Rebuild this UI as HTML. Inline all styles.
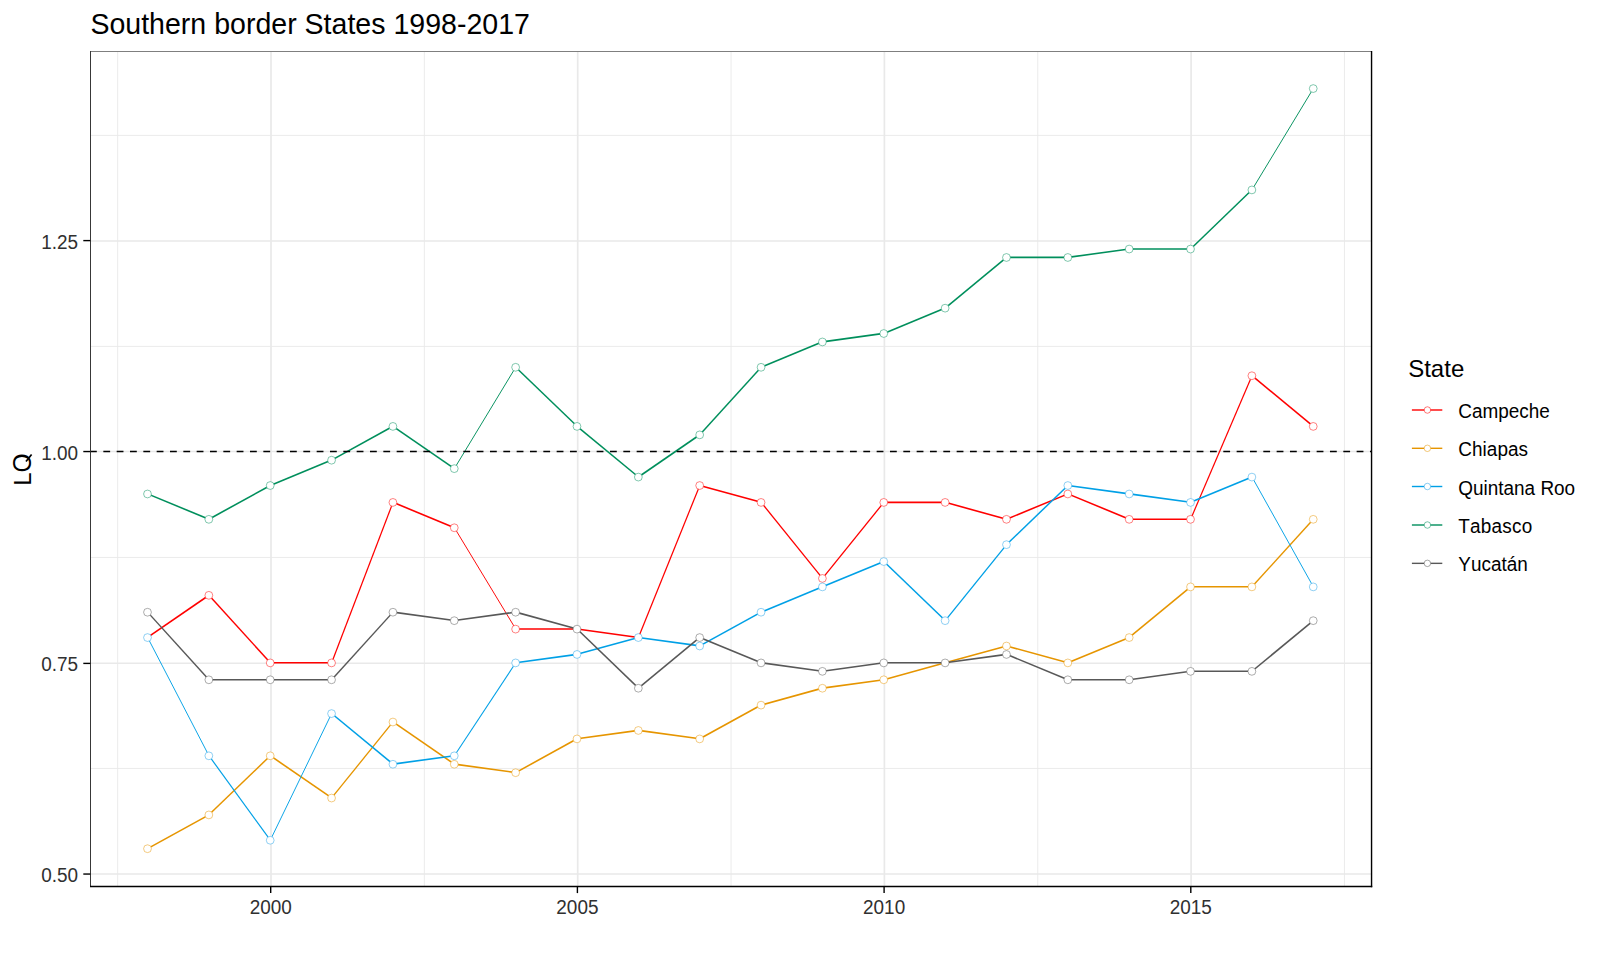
<!DOCTYPE html>
<html lang="en"><head><meta charset="utf-8"><title>Southern border States 1998-2017</title>
<style>html,body{margin:0;padding:0;background:#fff;width:1600px;height:960px;overflow:hidden}svg{display:block;position:absolute;left:0;top:0}text{font-family:"Liberation Sans",sans-serif;fill:#000;font-kerning:none;font-feature-settings:"kern" 0,"liga" 0}.ax{font-size:18.95px;fill:#303030}.lg{font-size:18.95px}.lt{font-size:24px}.ti{font-size:28.55px}</style></head><body>
<svg width="1600" height="960" viewBox="0 0 1600 960">
<rect x="0" y="0" width="1600" height="960" fill="#ffffff"/>
<g id="grid" stroke="#e9e9e9" fill="none">
<line x1="90.5" x2="1371.55" y1="768.48" y2="768.48" stroke-width="0.9"/>
<line x1="90.5" x2="1371.55" y1="557.45" y2="557.45" stroke-width="0.9"/>
<line x1="90.5" x2="1371.55" y1="346.42" y2="346.42" stroke-width="0.9"/>
<line x1="90.5" x2="1371.55" y1="135.39" y2="135.39" stroke-width="0.9"/>
<line y1="51.5" y2="886.45" x1="117.65" x2="117.65" stroke-width="0.9"/>
<line y1="51.5" y2="886.45" x1="424.35" x2="424.35" stroke-width="0.9"/>
<line y1="51.5" y2="886.45" x1="731.05" x2="731.05" stroke-width="0.9"/>
<line y1="51.5" y2="886.45" x1="1037.75" x2="1037.75" stroke-width="0.9"/>
<line y1="51.5" y2="886.45" x1="1344.45" x2="1344.45" stroke-width="0.9"/>
<line x1="90.5" x2="1371.55" y1="874.00" y2="874.00" stroke-width="1.5"/>
<line x1="90.5" x2="1371.55" y1="663.30" y2="663.30" stroke-width="1.5"/>
<line x1="90.5" x2="1371.55" y1="451.60" y2="451.60" stroke-width="1.5"/>
<line x1="90.5" x2="1371.55" y1="240.90" y2="240.90" stroke-width="1.5"/>
<line y1="51.5" y2="886.45" x1="271.00" x2="271.00" stroke-width="1.7"/>
<line y1="51.5" y2="886.45" x1="577.70" x2="577.70" stroke-width="1.7"/>
<line y1="51.5" y2="886.45" x1="884.40" x2="884.40" stroke-width="1.7"/>
<line y1="51.5" y2="886.45" x1="1191.10" x2="1191.10" stroke-width="1.7"/>
</g>
<g id="lines" fill="none" stroke-linecap="butt">
<g stroke="#FF0000">
<line x1="147.60" y1="637.46" x2="208.95" y2="595.23" stroke-width="1.60"/>
<line x1="208.95" y1="595.23" x2="270.31" y2="662.80" stroke-width="1.45"/>
<line x1="270.31" y1="662.80" x2="331.66" y2="662.80" stroke-width="1.60"/>
<line x1="331.66" y1="662.80" x2="393.02" y2="502.33" stroke-width="1.25"/>
<line x1="393.02" y1="502.33" x2="454.38" y2="527.66" stroke-width="1.60"/>
<line x1="454.38" y1="527.66" x2="515.73" y2="629.02" stroke-width="0.96"/>
<line x1="515.73" y1="629.02" x2="577.08" y2="629.02" stroke-width="1.60"/>
<line x1="577.08" y1="629.02" x2="638.44" y2="637.46" stroke-width="1.60"/>
<line x1="638.44" y1="637.46" x2="699.79" y2="485.43" stroke-width="1.25"/>
<line x1="699.79" y1="485.43" x2="761.15" y2="502.33" stroke-width="1.60"/>
<line x1="761.15" y1="502.33" x2="822.50" y2="578.34" stroke-width="1.32"/>
<line x1="822.50" y1="578.34" x2="883.86" y2="502.33" stroke-width="1.32"/>
<line x1="883.86" y1="502.33" x2="945.22" y2="502.33" stroke-width="1.60"/>
<line x1="945.22" y1="502.33" x2="1006.57" y2="519.22" stroke-width="1.60"/>
<line x1="1006.57" y1="519.22" x2="1067.92" y2="493.88" stroke-width="1.60"/>
<line x1="1067.92" y1="493.88" x2="1129.28" y2="519.22" stroke-width="1.60"/>
<line x1="1129.28" y1="519.22" x2="1190.63" y2="519.22" stroke-width="1.60"/>
<line x1="1190.63" y1="519.22" x2="1251.99" y2="375.64" stroke-width="1.23"/>
<line x1="1251.99" y1="375.64" x2="1313.34" y2="426.31" stroke-width="1.55"/>
</g>
<g stroke="#E69500">
<line x1="147.60" y1="848.61" x2="208.95" y2="814.83" stroke-width="1.60"/>
<line x1="208.95" y1="814.83" x2="270.31" y2="755.71" stroke-width="1.50"/>
<line x1="270.31" y1="755.71" x2="331.66" y2="797.94" stroke-width="1.60"/>
<line x1="331.66" y1="797.94" x2="393.02" y2="721.92" stroke-width="1.32"/>
<line x1="393.02" y1="721.92" x2="454.38" y2="764.15" stroke-width="1.60"/>
<line x1="454.38" y1="764.15" x2="515.73" y2="772.60" stroke-width="1.60"/>
<line x1="515.73" y1="772.60" x2="577.08" y2="738.81" stroke-width="1.60"/>
<line x1="577.08" y1="738.81" x2="638.44" y2="730.37" stroke-width="1.60"/>
<line x1="638.44" y1="730.37" x2="699.79" y2="738.81" stroke-width="1.60"/>
<line x1="699.79" y1="738.81" x2="761.15" y2="705.03" stroke-width="1.60"/>
<line x1="761.15" y1="705.03" x2="822.50" y2="688.14" stroke-width="1.60"/>
<line x1="822.50" y1="688.14" x2="883.86" y2="679.69" stroke-width="1.60"/>
<line x1="883.86" y1="679.69" x2="945.22" y2="662.80" stroke-width="1.60"/>
<line x1="945.22" y1="662.80" x2="1006.57" y2="645.91" stroke-width="1.60"/>
<line x1="1006.57" y1="645.91" x2="1067.92" y2="662.80" stroke-width="1.60"/>
<line x1="1067.92" y1="662.80" x2="1129.28" y2="637.46" stroke-width="1.60"/>
<line x1="1129.28" y1="637.46" x2="1190.63" y2="586.79" stroke-width="1.55"/>
<line x1="1190.63" y1="586.79" x2="1251.99" y2="586.79" stroke-width="1.60"/>
<line x1="1251.99" y1="586.79" x2="1313.34" y2="519.22" stroke-width="1.45"/>
</g>
<g stroke="#00A0E6">
<line x1="147.60" y1="637.46" x2="208.95" y2="755.71" stroke-width="0.95"/>
<line x1="208.95" y1="755.71" x2="270.31" y2="840.17" stroke-width="1.19"/>
<line x1="270.31" y1="840.17" x2="331.66" y2="713.48" stroke-width="0.95"/>
<line x1="331.66" y1="713.48" x2="393.02" y2="764.15" stroke-width="1.55"/>
<line x1="393.02" y1="764.15" x2="454.38" y2="755.71" stroke-width="1.60"/>
<line x1="454.38" y1="755.71" x2="515.73" y2="662.80" stroke-width="1.07"/>
<line x1="515.73" y1="662.80" x2="577.08" y2="654.35" stroke-width="1.60"/>
<line x1="577.08" y1="654.35" x2="638.44" y2="637.46" stroke-width="1.60"/>
<line x1="638.44" y1="637.46" x2="699.79" y2="645.91" stroke-width="1.60"/>
<line x1="699.79" y1="645.91" x2="761.15" y2="612.12" stroke-width="1.60"/>
<line x1="761.15" y1="612.12" x2="822.50" y2="586.79" stroke-width="1.60"/>
<line x1="822.50" y1="586.79" x2="883.86" y2="561.45" stroke-width="1.60"/>
<line x1="883.86" y1="561.45" x2="945.22" y2="620.57" stroke-width="1.50"/>
<line x1="945.22" y1="620.57" x2="1006.57" y2="544.56" stroke-width="1.32"/>
<line x1="1006.57" y1="544.56" x2="1067.92" y2="485.43" stroke-width="1.50"/>
<line x1="1067.92" y1="485.43" x2="1129.28" y2="493.88" stroke-width="1.60"/>
<line x1="1129.28" y1="493.88" x2="1190.63" y2="502.33" stroke-width="1.60"/>
<line x1="1190.63" y1="502.33" x2="1251.99" y2="476.99" stroke-width="1.60"/>
<line x1="1251.99" y1="476.99" x2="1313.34" y2="586.79" stroke-width="0.95"/>
</g>
<g stroke="#008F5C">
<line x1="147.60" y1="493.88" x2="208.95" y2="519.22" stroke-width="1.60"/>
<line x1="208.95" y1="519.22" x2="270.31" y2="485.43" stroke-width="1.60"/>
<line x1="270.31" y1="485.43" x2="331.66" y2="460.10" stroke-width="1.60"/>
<line x1="331.66" y1="460.10" x2="393.02" y2="426.31" stroke-width="1.60"/>
<line x1="393.02" y1="426.31" x2="454.38" y2="468.54" stroke-width="1.60"/>
<line x1="454.38" y1="468.54" x2="515.73" y2="367.19" stroke-width="0.96"/>
<line x1="515.73" y1="367.19" x2="577.08" y2="426.31" stroke-width="1.50"/>
<line x1="577.08" y1="426.31" x2="638.44" y2="476.99" stroke-width="1.55"/>
<line x1="638.44" y1="476.99" x2="699.79" y2="434.76" stroke-width="1.60"/>
<line x1="699.79" y1="434.76" x2="761.15" y2="367.19" stroke-width="1.45"/>
<line x1="761.15" y1="367.19" x2="822.50" y2="341.85" stroke-width="1.60"/>
<line x1="822.50" y1="341.85" x2="883.86" y2="333.41" stroke-width="1.60"/>
<line x1="883.86" y1="333.41" x2="945.22" y2="308.07" stroke-width="1.60"/>
<line x1="945.22" y1="308.07" x2="1006.57" y2="257.39" stroke-width="1.55"/>
<line x1="1006.57" y1="257.39" x2="1067.92" y2="257.39" stroke-width="1.60"/>
<line x1="1067.92" y1="257.39" x2="1129.28" y2="248.95" stroke-width="1.60"/>
<line x1="1129.28" y1="248.95" x2="1190.63" y2="248.95" stroke-width="1.60"/>
<line x1="1190.63" y1="248.95" x2="1251.99" y2="189.82" stroke-width="1.50"/>
<line x1="1251.99" y1="189.82" x2="1313.34" y2="88.47" stroke-width="0.96"/>
</g>
<g stroke="#585858">
<line x1="147.60" y1="612.12" x2="208.95" y2="679.69" stroke-width="1.45"/>
<line x1="208.95" y1="679.69" x2="270.31" y2="679.69" stroke-width="1.60"/>
<line x1="270.31" y1="679.69" x2="331.66" y2="679.69" stroke-width="1.60"/>
<line x1="331.66" y1="679.69" x2="393.02" y2="612.12" stroke-width="1.45"/>
<line x1="393.02" y1="612.12" x2="454.38" y2="620.57" stroke-width="1.60"/>
<line x1="454.38" y1="620.57" x2="515.73" y2="612.12" stroke-width="1.60"/>
<line x1="515.73" y1="612.12" x2="577.08" y2="629.02" stroke-width="1.60"/>
<line x1="577.08" y1="629.02" x2="638.44" y2="688.14" stroke-width="1.50"/>
<line x1="638.44" y1="688.14" x2="699.79" y2="637.46" stroke-width="1.55"/>
<line x1="699.79" y1="637.46" x2="761.15" y2="662.80" stroke-width="1.60"/>
<line x1="761.15" y1="662.80" x2="822.50" y2="671.25" stroke-width="1.60"/>
<line x1="822.50" y1="671.25" x2="883.86" y2="662.80" stroke-width="1.60"/>
<line x1="883.86" y1="662.80" x2="945.22" y2="662.80" stroke-width="1.60"/>
<line x1="945.22" y1="662.80" x2="1006.57" y2="654.35" stroke-width="1.60"/>
<line x1="1006.57" y1="654.35" x2="1067.92" y2="679.69" stroke-width="1.60"/>
<line x1="1067.92" y1="679.69" x2="1129.28" y2="679.69" stroke-width="1.60"/>
<line x1="1129.28" y1="679.69" x2="1190.63" y2="671.25" stroke-width="1.60"/>
<line x1="1190.63" y1="671.25" x2="1251.99" y2="671.25" stroke-width="1.60"/>
<line x1="1251.99" y1="671.25" x2="1313.34" y2="620.57" stroke-width="1.55"/>
</g>
</g>
<line x1="90" x2="1371.55" y1="451.55" y2="451.55" stroke="#000" stroke-width="1.55" stroke-dasharray="6.8 6.533"/>
<g id="pts" fill="#fff" stroke-width="0.7">
<g stroke="#FF0000" stroke-opacity="0.7">
<circle cx="208.85" cy="595.33" r="3.9"/>
<circle cx="270.21" cy="662.90" r="3.9"/>
<circle cx="331.56" cy="662.90" r="3.9"/>
<circle cx="392.92" cy="502.43" r="3.9"/>
<circle cx="454.27" cy="527.76" r="3.9"/>
<circle cx="515.63" cy="629.12" r="3.9"/>
<circle cx="699.69" cy="485.53" r="3.9"/>
<circle cx="761.05" cy="502.43" r="3.9"/>
<circle cx="822.40" cy="578.44" r="3.9"/>
<circle cx="883.76" cy="502.43" r="3.9"/>
<circle cx="945.12" cy="502.43" r="3.9"/>
<circle cx="1006.47" cy="519.32" r="3.9"/>
<circle cx="1067.83" cy="493.98" r="3.9"/>
<circle cx="1129.18" cy="519.32" r="3.9"/>
<circle cx="1190.53" cy="519.32" r="3.9"/>
<circle cx="1251.89" cy="375.74" r="3.9"/>
<circle cx="1313.24" cy="426.41" r="3.9"/>
</g>
<g stroke="#E69500" stroke-opacity="0.7">
<circle cx="147.50" cy="848.71" r="3.9"/>
<circle cx="208.85" cy="814.93" r="3.9"/>
<circle cx="270.21" cy="755.81" r="3.9"/>
<circle cx="331.56" cy="798.04" r="3.9"/>
<circle cx="392.92" cy="722.02" r="3.9"/>
<circle cx="454.27" cy="764.25" r="3.9"/>
<circle cx="515.63" cy="772.70" r="3.9"/>
<circle cx="576.98" cy="738.91" r="3.9"/>
<circle cx="638.34" cy="730.47" r="3.9"/>
<circle cx="699.69" cy="738.91" r="3.9"/>
<circle cx="761.05" cy="705.13" r="3.9"/>
<circle cx="822.40" cy="688.24" r="3.9"/>
<circle cx="883.76" cy="679.79" r="3.9"/>
<circle cx="1006.47" cy="646.01" r="3.9"/>
<circle cx="1067.83" cy="662.90" r="3.9"/>
<circle cx="1129.18" cy="637.56" r="3.9"/>
<circle cx="1190.53" cy="586.89" r="3.9"/>
<circle cx="1251.89" cy="586.89" r="3.9"/>
<circle cx="1313.24" cy="519.32" r="3.9"/>
</g>
<g stroke="#1E9FE6" stroke-opacity="0.7">
<circle cx="147.50" cy="637.56" r="3.9"/>
<circle cx="208.85" cy="755.81" r="3.9"/>
<circle cx="270.21" cy="840.27" r="3.9"/>
<circle cx="331.56" cy="713.58" r="3.9"/>
<circle cx="392.92" cy="764.25" r="3.9"/>
<circle cx="454.27" cy="755.81" r="3.9"/>
<circle cx="515.63" cy="662.90" r="3.9"/>
<circle cx="576.98" cy="654.45" r="3.9"/>
<circle cx="638.34" cy="637.56" r="3.9"/>
<circle cx="699.69" cy="646.01" r="3.9"/>
<circle cx="761.05" cy="612.22" r="3.9"/>
<circle cx="822.40" cy="586.89" r="3.9"/>
<circle cx="883.76" cy="561.55" r="3.9"/>
<circle cx="945.12" cy="620.67" r="3.9"/>
<circle cx="1006.47" cy="544.66" r="3.9"/>
<circle cx="1067.83" cy="485.53" r="3.9"/>
<circle cx="1129.18" cy="493.98" r="3.9"/>
<circle cx="1190.53" cy="502.43" r="3.9"/>
<circle cx="1251.89" cy="477.09" r="3.9"/>
<circle cx="1313.24" cy="586.89" r="3.9"/>
</g>
<g stroke="#008F5C" stroke-opacity="0.7">
<circle cx="147.50" cy="493.98" r="3.9"/>
<circle cx="208.85" cy="519.32" r="3.9"/>
<circle cx="270.21" cy="485.53" r="3.9"/>
<circle cx="331.56" cy="460.20" r="3.9"/>
<circle cx="392.92" cy="426.41" r="3.9"/>
<circle cx="454.27" cy="468.64" r="3.9"/>
<circle cx="515.63" cy="367.29" r="3.9"/>
<circle cx="576.98" cy="426.41" r="3.9"/>
<circle cx="638.34" cy="477.09" r="3.9"/>
<circle cx="699.69" cy="434.86" r="3.9"/>
<circle cx="761.05" cy="367.29" r="3.9"/>
<circle cx="822.40" cy="341.95" r="3.9"/>
<circle cx="883.76" cy="333.51" r="3.9"/>
<circle cx="945.12" cy="308.17" r="3.9"/>
<circle cx="1006.47" cy="257.49" r="3.9"/>
<circle cx="1067.83" cy="257.49" r="3.9"/>
<circle cx="1129.18" cy="249.05" r="3.9"/>
<circle cx="1190.53" cy="249.05" r="3.9"/>
<circle cx="1251.89" cy="189.92" r="3.9"/>
<circle cx="1313.24" cy="88.57" r="3.9"/>
</g>
<g stroke="#585858" stroke-opacity="0.7">
<circle cx="147.50" cy="612.22" r="3.9"/>
<circle cx="208.85" cy="679.79" r="3.9"/>
<circle cx="270.21" cy="679.79" r="3.9"/>
<circle cx="331.56" cy="679.79" r="3.9"/>
<circle cx="392.92" cy="612.22" r="3.9"/>
<circle cx="454.27" cy="620.67" r="3.9"/>
<circle cx="515.63" cy="612.22" r="3.9"/>
<circle cx="576.98" cy="629.12" r="3.9"/>
<circle cx="638.34" cy="688.24" r="3.9"/>
<circle cx="699.69" cy="637.56" r="3.9"/>
<circle cx="761.05" cy="662.90" r="3.9"/>
<circle cx="822.40" cy="671.35" r="3.9"/>
<circle cx="883.76" cy="662.90" r="3.9"/>
<circle cx="945.12" cy="662.90" r="3.9"/>
<circle cx="1006.47" cy="654.45" r="3.9"/>
<circle cx="1067.83" cy="679.79" r="3.9"/>
<circle cx="1129.18" cy="679.79" r="3.9"/>
<circle cx="1190.53" cy="671.35" r="3.9"/>
<circle cx="1251.89" cy="671.35" r="3.9"/>
<circle cx="1313.24" cy="620.67" r="3.9"/>
</g>
</g>
<g id="border" shape-rendering="crispEdges">
<rect x="90" y="51" width="1282" height="1" fill="#7f7f7f"/>
<rect x="90" y="51" width="1" height="836" fill="#383838"/>
</g>
<line x1="90" x2="1372.25" y1="886.45" y2="886.45" stroke="#000" stroke-width="1.4"/>
<line x1="1371.55" x2="1371.55" y1="51" y2="887.15" stroke="#000" stroke-width="1.4"/>
<g id="ticks" stroke="#000" stroke-width="1.4">
<line x1="83.3" x2="90.3" y1="874.05" y2="874.05"/>
<line x1="83.3" x2="90.3" y1="663.40" y2="663.40"/>
<line x1="83.3" x2="90.3" y1="451.55" y2="451.55"/>
<line x1="83.3" x2="90.3" y1="240.60" y2="240.60"/>
<line y1="886.4" y2="893.1" x1="270.70" x2="270.70"/>
<line y1="886.4" y2="893.1" x1="577.40" x2="577.40"/>
<line y1="886.4" y2="893.1" x1="884.10" x2="884.10"/>
<line y1="886.4" y2="893.1" x1="1190.80" x2="1190.80"/>
</g>
<text class="ax" transform="translate(78.0,881.95) scale(1,1.03)" text-anchor="end">0.50</text>
<text class="ax" transform="translate(78.0,671.25) scale(1,1.03)" text-anchor="end">0.75</text>
<text class="ax" transform="translate(78.0,459.55) scale(1,1.03)" text-anchor="end">1.00</text>
<text class="ax" transform="translate(78.0,248.85) scale(1,1.03)" text-anchor="end">1.25</text>
<text class="ax" transform="translate(270.70,913.8) scale(1,1.03)" text-anchor="middle">2000</text>
<text class="ax" transform="translate(577.40,913.8) scale(1,1.03)" text-anchor="middle">2005</text>
<text class="ax" transform="translate(884.10,913.8) scale(1,1.03)" text-anchor="middle">2010</text>
<text class="ax" transform="translate(1190.80,913.8) scale(1,1.03)" text-anchor="middle">2015</text>
<text class="lt" transform="translate(30.9,485.8) rotate(-90) scale(1,1.03)">L</text>
<text style="font-size:24.6px" transform="translate(30.9,472.45) rotate(-90) scale(1,1.03)">O</text>
<line x1="26.0" y1="461.6" x2="31.6" y2="454.4" stroke="#000" stroke-width="1.7"/>
<text class="ti" transform="translate(90.4,33.7) scale(1,1.045)">Southern border States 1998-2017</text>
<text class="lt" x="1408.2" y="376.7">State</text>
<line x1="1411.9" x2="1442.3" y1="410.00" y2="410.00" stroke="#FF0000" stroke-width="1.4"/>
<circle cx="1427.4" cy="410.00" r="3.25" fill="#fff" stroke="#FF0000" stroke-opacity="0.75" stroke-width="0.7"/>
<text class="lg" transform="translate(1458.3,418.05) scale(1,1.03)" letter-spacing="0">Campeche</text>
<line x1="1411.9" x2="1442.3" y1="448.30" y2="448.30" stroke="#E69500" stroke-width="1.4"/>
<circle cx="1427.4" cy="448.30" r="3.25" fill="#fff" stroke="#E69500" stroke-opacity="0.75" stroke-width="0.7"/>
<text class="lg" transform="translate(1458.3,456.35) scale(1,1.03)" letter-spacing="0.05">Chiapas</text>
<line x1="1411.9" x2="1442.3" y1="486.50" y2="486.50" stroke="#00A0E6" stroke-width="1.4"/>
<circle cx="1427.4" cy="486.50" r="3.25" fill="#fff" stroke="#1E9FE6" stroke-opacity="0.75" stroke-width="0.7"/>
<text class="lg" transform="translate(1458.3,494.55) scale(1,1.03)" letter-spacing="0">Quintana Roo</text>
<line x1="1411.9" x2="1442.3" y1="525.00" y2="525.00" stroke="#008F5C" stroke-width="1.4"/>
<circle cx="1427.4" cy="525.00" r="3.25" fill="#fff" stroke="#008F5C" stroke-opacity="0.75" stroke-width="0.7"/>
<text class="lg" transform="translate(1458.3,533.05) scale(1,1.03)" letter-spacing="0.22">Tabasco</text>
<line x1="1411.9" x2="1442.3" y1="563.35" y2="563.35" stroke="#585858" stroke-width="1.4"/>
<circle cx="1427.4" cy="563.35" r="3.25" fill="#fff" stroke="#585858" stroke-opacity="0.75" stroke-width="0.7"/>
<text class="lg" transform="translate(1458.3,571.40) scale(1,1.03)" letter-spacing="0">Yucatán</text>
</svg></body></html>
